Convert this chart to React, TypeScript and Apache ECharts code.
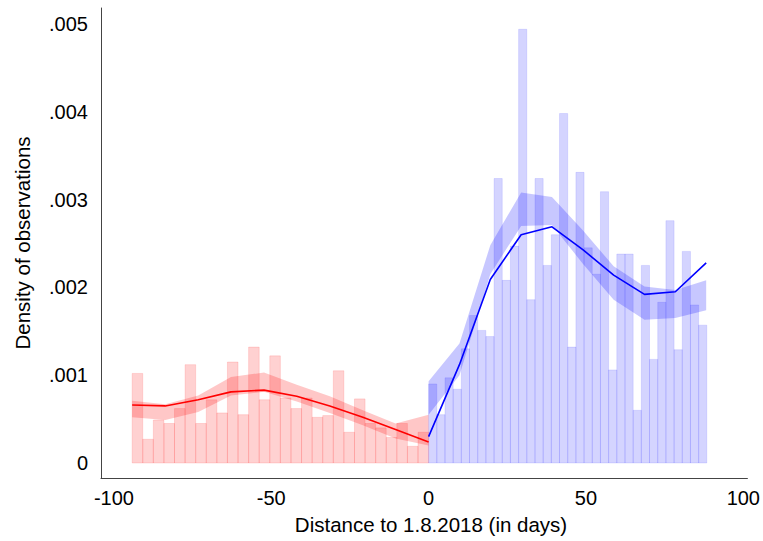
import React, { useEffect, useRef } from "react";
import * as echarts from "echarts";

// Histogram bins (density ×1e-3)
const redBinStart = -94.2;
const redBinWidth = 3.364;
const redHeights = [1.02, 0.27, 0.49, 0.45, 0.62, 1.12, 0.45, 0.72, 0.57, 1.15, 0.55, 1.32, 0.72, 1.22, 0.74, 0.62, 0.74, 0.52, 0.54, 1.05, 0.35, 0.73, 0.45, 0.40, 0.29, 0.45, 0.19, 0.35];
const blueBinStart = 0;
const blueBinWidth = 2.6;
const blueHeights = [0.90, 0.55, 0.97, 0.84, 1.30, 1.68, 1.51, 1.44, 3.24, 2.08, 2.47, 4.94, 1.86, 3.24, 2.25, 2.60, 3.98, 1.32, 3.31, 2.45, 2.15, 3.09, 1.06, 2.38, 2.38, 0.60, 2.25, 1.18, 1.83, 2.76, 1.29, 2.41, 1.80, 1.57];

// Fitted lines and confidence bands (×1e-3)
const redX = [-94.2, -83.7, -73.2, -62.8, -52.3, -41.9, -31.4, -20.9, -10.5, 0];
const redLine = [0.66, 0.65, 0.72, 0.81, 0.83, 0.76, 0.65, 0.52, 0.38, 0.24];
const redUpper = [0.71, 0.67, 0.77, 0.98, 1.03, 0.89, 0.76, 0.60, 0.45, 0.55];
const redLower = [0.52, 0.49, 0.58, 0.77, 0.81, 0.70, 0.57, 0.43, 0.28, 0.20];

const blueX = [0, 9.8, 19.6, 29.4, 39.2, 49, 58.8, 68.6, 78.4, 88.2];
const blueLine = [0.30, 1.12, 2.09, 2.60, 2.69, 2.43, 2.14, 1.92, 1.95, 2.28];
const blueUpper = [0.93, 1.36, 2.48, 3.08, 3.03, 2.65, 2.24, 2.01, 1.97, 2.08];
const blueLower = [0.55, 1.00, 2.15, 2.70, 2.71, 2.27, 1.86, 1.63, 1.65, 1.74];

const xTicks = [-100, -50, 0, 50, 100];
const yTicks = [0, 0.001, 0.002, 0.003, 0.004, 0.005];

const S = 0.001;
const FONT = "Liberation Sans, Arial, sans-serif";

function histSeries(start: number, width: number, heights: number[], fill: string, stroke: string) {
  return {
    type: "custom",
    z: 1,
    data: heights.map((h, i) => [start + i * width, start + (i + 1) * width, h * S]),
    renderItem: (_p: any, api: any) => {
      const a = api.coord([api.value(0), api.value(2)]);
      const b = api.coord([api.value(1), 0]);
      return {
        type: "rect",
        shape: { x: a[0], y: a[1], width: b[0] - a[0], height: b[1] - a[1] },
        style: { fill, stroke, lineWidth: 1 },
      };
    },
  };
}

function bandSeries(xs: number[], up: number[], lo: number[], fill: string) {
  return {
    type: "custom",
    z: 2,
    data: [[xs[0], up[0] * S]],
    renderItem: (_p: any, api: any) => {
      const pts: number[][] = [];
      xs.forEach((x, i) => pts.push(api.coord([x, up[i] * S])));
      for (let i = xs.length - 1; i >= 0; i--) pts.push(api.coord([xs[i], lo[i] * S]));
      return { type: "polygon", shape: { points: pts }, style: { fill, stroke: "none" } };
    },
  };
}

function lineSeries(xs: number[], ys: number[], color: string) {
  return {
    type: "line",
    z: 3,
    data: xs.map((x, i) => [x, ys[i] * S]),
    showSymbol: false,
    symbol: "none",
    lineStyle: { color, width: 1.6 },
  };
}

export default function App() {
  const ref = useRef<HTMLDivElement>(null);
  useEffect(() => {
    document.body.style.margin = "0";
    const chart = echarts.init(ref.current!, null, { renderer: "svg" });
    chart.setOption({
      animation: false,
      backgroundColor: "#ffffff",
      grid: { left: 101, right: 13, top: 8, bottom: 63 },
      xAxis: {
        type: "value",
        min: -104.1,
        max: 101.3,
        splitLine: { show: false },
        axisLine: { show: true, onZero: false, lineStyle: { color: "#444", width: 1 } },
        axisTick: { show: false },
        axisLabel: {
          customValues: xTicks,
          color: "#000",
          fontSize: 20,
          fontFamily: FONT,
          margin: 10,
          formatter: (v: number) => String(v),
        },
      },
      yAxis: {
        type: "value",
        min: -0.000171,
        max: 0.005182,
        splitLine: { show: false },
        axisLine: { show: true, onZero: false, lineStyle: { color: "#444", width: 1 } },
        axisTick: { show: false },
        axisLabel: {
          customValues: yTicks,
          color: "#000",
          fontSize: 20,
          fontFamily: FONT,
          margin: 13,
          formatter: (v: number) => (Math.abs(v) < 1e-9 ? "0" : v.toFixed(3).replace(/^0/, "")),
        },
        name: "Density of observations",
        nameLocation: "middle",
        nameGap: 68,
        nameTextStyle: { color: "#000", fontSize: 20.5, fontFamily: FONT },
      },
      graphic: [
        {
          type: "text",
          x: 431,
          y: 524,
          style: {
            text: "Distance to 1.8.2018 (in days)",
            fill: "#000",
            fontSize: 20.5,
            fontFamily: FONT,
            align: "center",
            verticalAlign: "middle",
          },
        },
      ],
      series: [
        histSeries(redBinStart, redBinWidth, redHeights, "rgba(255,0,0,0.18)", "rgba(255,0,0,0.12)"),
        histSeries(blueBinStart, blueBinWidth, blueHeights, "rgba(0,0,255,0.17)", "rgba(0,0,255,0.10)"),
        bandSeries(redX, redUpper, redLower, "rgba(255,0,0,0.22)"),
        bandSeries(blueX, blueUpper, blueLower, "rgba(0,0,255,0.22)"),
        lineSeries(redX, redLine, "#ff0000"),
        lineSeries(blueX, blueLine, "#0000ff"),
      ],
    });
    return () => chart.dispose();
  }, []);
  return <div ref={ref} style={{ width: 763, height: 541 }} />;
}
